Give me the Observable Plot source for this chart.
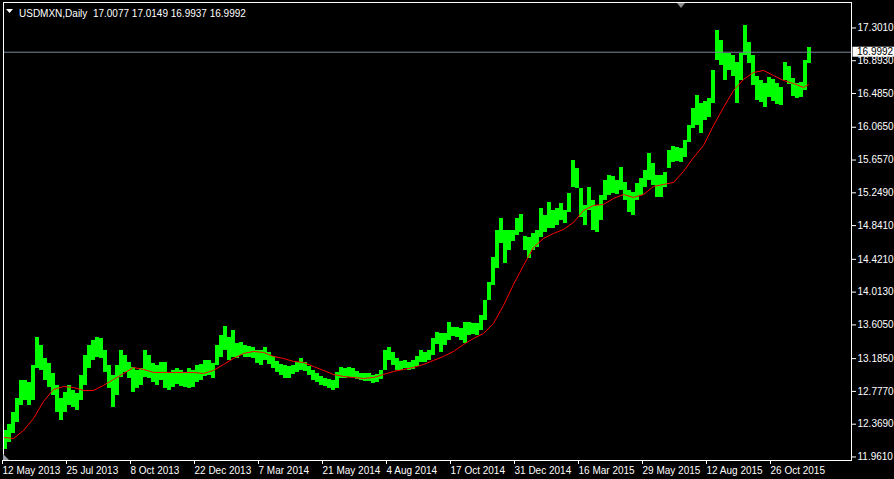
<!DOCTYPE html>
<html><head><meta charset="utf-8">
<script src="https://cdn.jsdelivr.net/npm/d3@7"></script>
<script src="https://cdn.jsdelivr.net/npm/@observablehq/plot@0.6"></script>
<style>
html,body{margin:0;padding:0;background:#000;overflow:hidden;}
#chart svg{display:block;background:#000;}
</style></head><body><div id="chart"></div>
<script>
const symbol = "USDMXN";
const timeframe = "Daily";
const lastOHLC = [17.0077, 17.0149, 16.9937, 16.9992];
const groupSize = 4; // daily bars per drawn group
const groupHigh = [
12.291,12.366,12.515,12.689,12.913,12.913,12.888,13.100,13.448,13.349,
13.187,13.125,13.000,12.851,12.689,12.764,12.851,12.789,12.751,12.975,
13.224,13.349,13.411,13.448,13.436,13.287,13.100,12.975,13.100,13.287,
13.224,13.137,13.075,13.038,13.062,13.287,13.224,13.125,13.100,13.137,
13.137,13.000,13.038,13.062,13.038,13.013,13.062,13.038,13.100,13.112,
13.162,13.162,13.125,13.349,13.473,13.585,13.448,13.535,13.374,13.386,
13.349,13.336,13.324,13.287,13.287,13.324,13.262,13.212,13.150,13.112,
13.100,13.087,13.100,13.137,13.187,13.137,13.087,13.038,13.000,12.963,
12.938,12.926,12.913,13.013,13.075,13.062,13.075,13.062,13.025,13.000,
13.000,13.000,12.975,12.988,13.038,13.287,13.324,13.262,13.187,13.150,
13.162,13.137,13.162,13.212,13.287,13.262,13.287,13.436,13.511,13.498,
13.498,13.635,13.573,13.573,13.560,13.635,13.635,13.623,13.623,13.722,
13.909,14.133,14.444,14.780,14.930,14.780,14.780,14.780,14.930,14.979,
14.706,14.693,14.743,14.780,15.054,14.967,15.129,15.029,15.054,15.116,
15.029,15.241,15.651,15.552,15.303,15.091,15.315,15.154,15.091,15.216,
15.403,15.465,15.452,15.403,15.564,15.378,15.278,15.253,15.365,15.427,
15.527,15.739,15.614,15.465,15.465,15.502,15.776,15.826,15.813,15.801,
15.900,16.087,16.299,16.461,16.361,16.386,16.423,16.772,17.270,17.145,
16.983,16.983,16.958,16.871,16.983,17.332,17.120,16.958,16.697,16.647,
16.610,16.685,16.660,16.610,16.560,16.871,16.821,16.672,16.610,16.622,
16.896,17.058];
const groupLow = [
12.054,12.141,12.253,12.390,12.602,12.664,12.602,12.664,13.062,13.038,
12.913,12.826,12.726,12.515,12.415,12.515,12.602,12.577,12.540,12.664,
12.851,13.062,13.162,13.199,13.187,13.013,12.814,12.577,12.726,12.950,
13.013,12.938,12.764,12.814,12.851,12.950,12.938,12.888,12.851,12.913,
12.814,12.789,12.826,12.863,12.838,12.826,12.814,12.826,12.888,12.913,
12.963,12.975,12.938,13.100,13.199,13.287,13.162,13.199,13.187,13.224,
13.199,13.199,13.187,13.125,13.100,13.162,13.112,13.062,13.013,12.975,
12.938,12.938,12.988,13.013,13.038,13.025,12.975,12.913,12.888,12.851,
12.838,12.814,12.789,12.814,12.938,12.938,12.950,12.950,12.926,12.913,
12.901,12.901,12.876,12.888,12.926,13.038,13.162,13.100,13.038,13.038,
13.062,13.038,13.050,13.087,13.137,13.137,13.162,13.224,13.361,13.262,
13.349,13.411,13.461,13.448,13.411,13.374,13.473,13.486,13.473,13.535,
13.660,13.909,14.096,14.307,14.618,14.369,14.531,14.643,14.718,14.755,
14.531,14.432,14.531,14.569,14.693,14.755,14.805,14.805,14.842,14.905,
14.867,15.004,15.315,15.303,14.942,14.842,15.029,14.780,14.755,14.905,
15.154,15.216,15.241,15.228,15.278,15.154,15.004,14.967,15.154,15.216,
15.315,15.403,15.340,15.191,15.191,15.315,15.552,15.627,15.639,15.627,
15.689,15.876,16.050,16.087,15.988,16.149,16.187,16.361,16.896,16.834,
16.647,16.772,16.697,16.361,16.647,16.958,16.859,16.585,16.398,16.373,
16.311,16.436,16.386,16.349,16.336,16.647,16.597,16.448,16.423,16.436,
16.523,16.859];
const maBars = [0,10,20,30,40,50,60,70,80,90,100,110,120,130,140,150,160,170,180,190,
200,210,220,230,240,250,260,270,280,290,300,310,320,330,340,350,360,370,380,390,
400,410,420,430,440,450,460,470,480,490,500,510,520,530,540,550,560,570,580,590,
600,610,620,630,640,650,660,670,680,690,700,710,720,730,740,750,760,770,780,790,800,805];
const maValues = [12.204,12.191,12.291,12.440,12.652,12.801,12.838,12.826,12.789,12.789,
12.851,12.926,13.000,13.075,13.050,13.013,13.013,13.013,13.013,13.013,
13.000,13.038,13.112,13.187,13.249,13.274,13.262,13.212,13.187,13.150,
13.137,13.087,13.038,12.988,12.963,12.950,12.938,12.950,12.988,13.025,
13.050,13.075,13.112,13.162,13.212,13.274,13.361,13.436,13.498,13.623,
13.847,14.108,14.344,14.569,14.681,14.743,14.793,14.880,15.029,15.091,
15.104,15.179,15.228,15.191,15.228,15.328,15.353,15.378,15.515,15.689,
15.838,16.087,16.311,16.523,16.660,16.747,16.772,16.709,16.647,16.610,16.560,16.597];
const dateTickBars = [0,64,128,192,256,320,384,448,512,576,640,704,768];
const dateLabels = ["12 May 2013","25 Jul 2013","8 Oct 2013","22 Dec 2013","7 Mar 2014","21 May 2014","4 Aug 2014","17 Oct 2014","31 Dec 2014","16 Mar 2015","29 May 2015","12 Aug 2015","26 Oct 2015"];
const priceTicks = [17.3010,16.8930,16.4850,16.0650,15.6570,15.2490,14.8410,14.4210,14.0130,13.6050,13.1850,12.7770,12.3690,11.9610];

const bars = groupHigh.map((h, i) => ({b0: i * groupSize, b1: i * groupSize + groupSize, high: h, low: groupLow[i]}));
const ma = maBars.map((b, i) => ({bar: b, value: maValues[i]}));
const FONT = "'Liberation Sans', Arial, sans-serif";

const chrome = (index, scales, values, dims) => {
  const g = d3.create("svg:g").attr("font-family", FONT).attr("font-size", 10).attr("text-anchor", "start");
  const right = dims.width - dims.marginRight;
  const left = dims.marginLeft;
  const top = dims.marginTop;
  const bottom = dims.height - dims.marginBottom;
  const yv = scales.y(lastOHLC[3]);
  g.append("rect").attr("x", right + 1.5).attr("y", yv - 5).attr("width", dims.marginRight).attr("height", 10).attr("fill", "#fff");
  g.append("text").attr("x", right + 6).attr("y", yv).attr("dy", "0.36em").attr("fill", "#000").attr("text-anchor", "start").text(lastOHLC[3].toFixed(4));
  g.append("path").attr("d", `M${left + 3},${top + 7}h7l-3.5,4z`).attr("fill", "#fff");
  g.append("text").attr("x", left + 16).attr("y", top + 14.5).attr("fill", "#fff").attr("text-anchor", "start")
    .text(`${symbol},${timeframe}  ${lastOHLC.map(v => v.toFixed(4)).join(" ")}`);
  g.append("path").attr("d", `M${left + 674},${top + 1}h8l-4,5z`).attr("fill", "#8c8c8c");
  g.append("path").attr("d", `M${left},${bottom - 6}v6h6z`).attr("fill", "#9aa0ac");
  return g.node();
};

const plot = Plot.plot({
  width: 894, height: 479,
  marginLeft: 3, marginRight: 43, marginTop: 2, marginBottom: 19,
  style: {background: "#000", color: "#fff", fontFamily: FONT, fontSize: "10px"},
  x: {domain: [0, 848], axis: null},
  y: {domain: [11.917, 17.618], axis: null},
  marks: [
    Plot.rect(bars, {x1: "b0", x2: "b1", y1: "low", y2: "high", fill: "#00ff00"}),
    Plot.line(ma, {x: "bar", y: "value", stroke: "#ff0000", strokeWidth: 1}),
    Plot.ruleY([lastOHLC[3]], {stroke: "#778899"}),
    Plot.axisY({anchor: "right", ticks: priceTicks, tickFormat: d => d.toFixed(4), tickSize: 4, tickPadding: 2, stroke: "#fff", fill: "#fff", textAnchor: "start"}),
    Plot.axisX({anchor: "bottom", ticks: dateTickBars, tickFormat: d => dateLabels[dateTickBars.indexOf(d)], tickSize: 4, tickPadding: 2, stroke: "#fff", fill: "#fff", textAnchor: "start", dx: -1}),
    Plot.frame({stroke: "#fff"}),
    chrome
  ]
});
document.getElementById("chart").appendChild(plot);
</script>
</body></html>
